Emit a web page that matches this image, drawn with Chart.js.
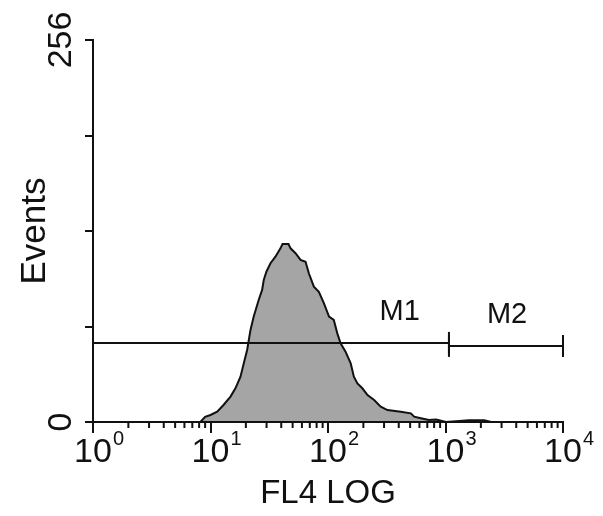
<!doctype html>
<html lang="en">
<head>
<meta charset="utf-8">
<title>FL4 LOG histogram</title>
<script src="https://cdn.jsdelivr.net/npm/chart.js"></script>
<style>
  html, body { margin: 0; padding: 0; background: #fff; }
  canvas { display: block; }
</style>
</head>
<body>
<canvas id="hist" width="603" height="516"></canvas>
<script>
// histogram outline: FL4 value, events
const fl4 = [8.2, 9.0, 10.0, 11.4, 12.9, 14.8, 16.3, 18.0, 19.2, 20.5, 21.9, 23.3, 25.7, 27.5,
  28.4, 29.9, 32.4, 35.7, 39.4, 41.0, 46.1, 48.0, 52.9, 58.4, 64.4, 68.7, 75.8, 83.6, 92.2,
  102, 112, 120, 128, 141, 156, 166, 178, 196, 217, 247, 281, 321, 416, 507, 541, 617, 722,
  830, 1010, 1585, 2130, 2450];
const events = [0, 3.4, 4.7, 6.9, 11.4, 17.0, 22.6, 30.4, 39.3, 48.3, 61.7, 70.6, 81.8, 88.5,
  95.2, 100.7, 106.4, 110.8, 116.4, 119.3, 119.3, 116.4, 113.1, 108.6, 107.4, 99.7, 90.7, 87.3, 79.6,
  70.6, 68.4, 59.4, 52.7, 47.1, 39.3, 30.4, 25.9, 22.6, 18.1, 14.7, 10.3, 8.0, 6.9, 5.8, 3.6, 2.5, 1.3,
  1.7, 0, 1.2, 1.2, 0];

// axes
const decades = [1, 10, 100, 1000, 10000];
const decadeExp = ['0', '1', '2', '3', '4'];
const yTicks = [0, 64, 128, 192, 256];
const yLabels = { 0: '0', 256: '256' };

// markers
const gateNames = ['M1', 'M2'];
const gateFrom = [1, 1070];
const gateTo = [1070, 10000];
const gateLevel = [53, 51];
const gateLabelX = [408, 3340];
const gateLabelY = [74, 72];

const ink = '#111';
const family = "'Liberation Sans', Arial, sans-serif";

const gateSets = gateNames.map((name, i) => ({
  label: name,
  data: [{ x: gateFrom[i], y: gateLevel[i] }, { x: gateTo[i], y: gateLevel[i] }],
  borderColor: ink,
  borderWidth: 2,
  pointStyle: 'line',
  rotation: 90,
  pointRadius: 11,
  pointBorderWidth: 2,
  pointBorderColor: ink,
  fill: false,
  clip: false,
  order: 1
}));

// minor ticks, superscript tick labels, rotated y labels, marker names
const axisText = {
  id: 'axisText',
  afterDraw(chart) {
    const { ctx, scales: { x, y } } = chart;
    ctx.save();
    ctx.fillStyle = ink;
    ctx.strokeStyle = ink;
    ctx.lineWidth = 2;

    decades.slice(0, -1).forEach(d => {
      for (let k = 2; k < 10; k++) {
        const px = x.getPixelForValue(d * k);
        ctx.beginPath();
        ctx.moveTo(px, y.bottom);
        ctx.lineTo(px, y.bottom + 6);
        ctx.stroke();
      }
    });

    decades.forEach((d, i) => {
      const px = x.getPixelForValue(d);
      ctx.font = '34px ' + family;
      ctx.textAlign = 'center';
      ctx.textBaseline = 'alphabetic';
      const w = ctx.measureText('10').width;
      ctx.fillText('10', px, y.bottom + 40);
      ctx.font = '20px ' + family;
      ctx.textAlign = 'left';
      ctx.fillText(decadeExp[i], px + w / 2 + 1, y.bottom + 23);
    });

    ctx.font = '34px ' + family;
    ctx.textAlign = 'center';
    ctx.textBaseline = 'middle';
    Object.keys(yLabels).forEach(v => {
      ctx.save();
      ctx.translate(62, y.getPixelForValue(+v));
      ctx.rotate(-Math.PI / 2);
      ctx.fillText(yLabels[v], 0, 0);
      ctx.restore();
    });

    ctx.font = '29px ' + family;
    gateNames.forEach((name, i) => {
      ctx.fillText(name, x.getPixelForValue(gateLabelX[i]), y.getPixelForValue(gateLabelY[i]));
    });
    ctx.restore();
  }
};

new Chart(document.getElementById('hist'), {
  type: 'line',
  data: {
    datasets: [...gateSets, {
      label: 'FL4',
      data: fl4.map((v, i) => ({ x: v, y: events[i] })),
      borderColor: ink,
      borderWidth: 2,
      backgroundColor: '#a5a5a5',
      fill: 'origin',
      pointRadius: 0,
      tension: 0,
      order: 2
    }]
  },
  options: {
    responsive: false,
    animation: false,
    layout: { padding: { top: 40, right: 40, left: 0, bottom: 0 } },
    plugins: { legend: { display: false }, tooltip: { enabled: false } },
    scales: {
      x: {
        type: 'logarithmic',
        min: 1,
        max: 10000,
        afterBuildTicks: s => { s.ticks = decades.map(v => ({ value: v })); },
        afterFit: s => { s.height = 94; },
        ticks: { display: false },
        grid: { drawOnChartArea: false, drawTicks: true, tickLength: 11, color: ink, lineWidth: 2, z: 1 },
        border: { display: true, color: ink, width: 2, z: 2 },
        title: {
          display: true, text: 'FL4 LOG', color: ink,
          font: { family: family, size: 33 }, padding: { top: 0, bottom: 2 }
        }
      },
      y: {
        min: 0,
        max: 256,
        afterBuildTicks: s => { s.ticks = yTicks.map(v => ({ value: v })); },
        afterFit: s => { s.width = 93; },
        ticks: { display: false },
        grid: { drawOnChartArea: false, drawTicks: true, tickLength: 8, color: ink, lineWidth: 2, z: 1 },
        border: { display: true, color: ink, width: 2, z: 2 },
        title: {
          display: true, text: 'Events', color: ink,
          font: { family: family, size: 35 }, padding: { top: 14, bottom: 0 }
        }
      }
    }
  },
  plugins: [axisText]
});
</script>
</body>
</html>
